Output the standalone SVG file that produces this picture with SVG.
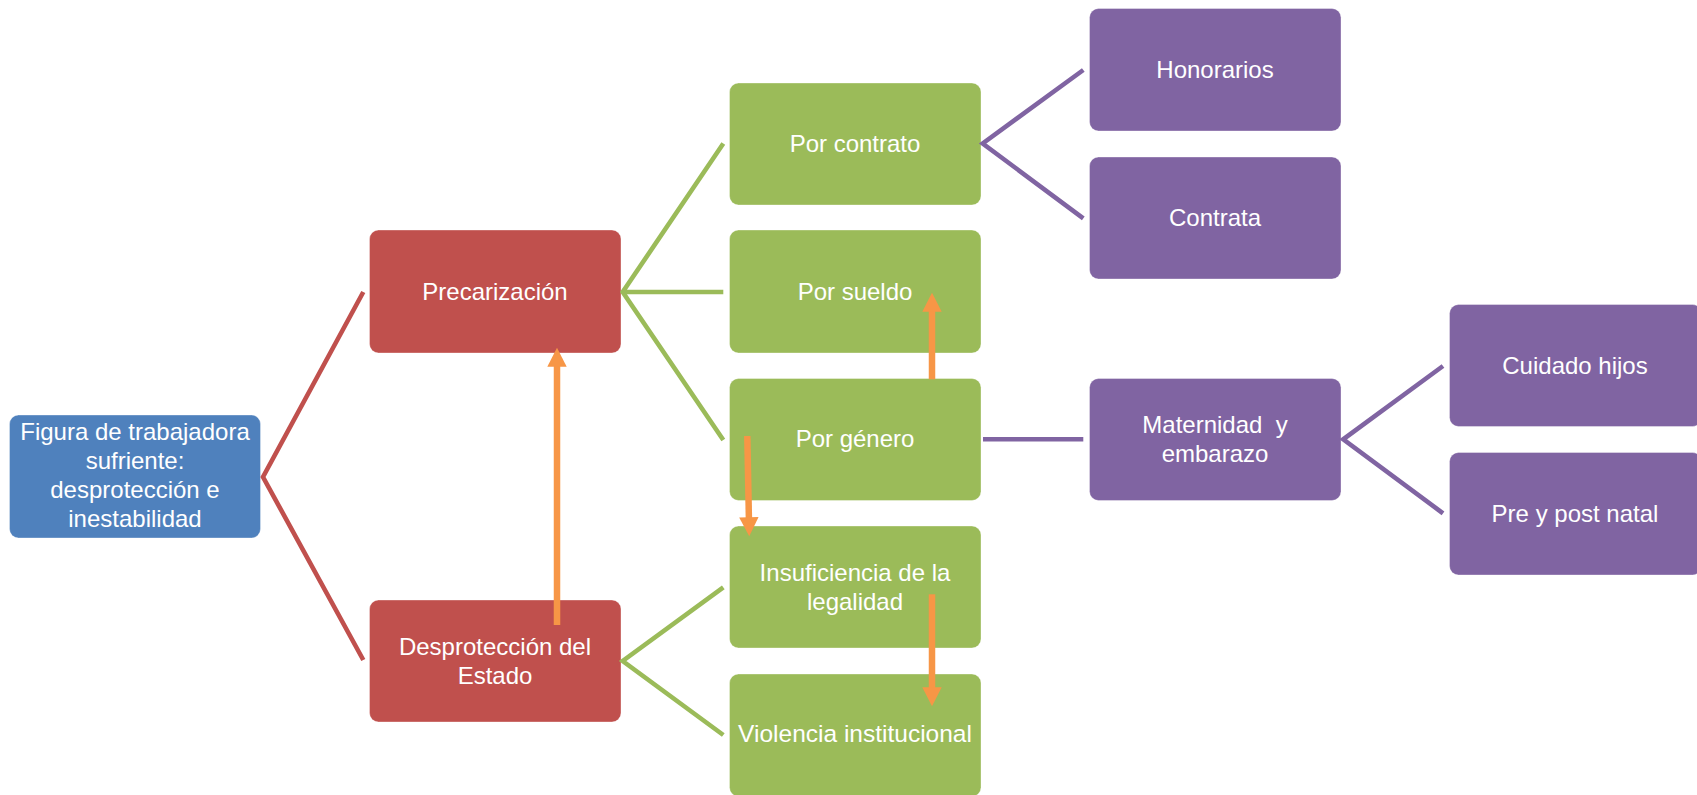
<svg xmlns="http://www.w3.org/2000/svg" width="1697" height="795" viewBox="0 0 1697 795">
<style>
.n rect{stroke:#ffffff;stroke-opacity:0.35;stroke-width:1}
.blue{fill:#4F81BD}.red{fill:#C0504D}.green{fill:#9BBB59}.purple{fill:#8064A2}
text{font-family:"Liberation Sans",Arial,sans-serif;font-size:24px;fill:#ffffff;text-anchor:middle;white-space:pre}
.c{fill:none;stroke-width:4.6;stroke-linecap:butt;stroke-linejoin:miter}
.cr{stroke:#C0504D}.cg{stroke:#9BBB59}.cp{stroke:#8064A2}
.ao{fill:none;stroke:#F79646;stroke-width:6.5}
</style>
<defs>
<marker id="ah" markerUnits="userSpaceOnUse" markerWidth="20" markerHeight="20" viewBox="0 -10 20 20" refX="1" refY="0" orient="auto" overflow="visible">
<path d="M0,-9.7 L19,0 L0,9.7 Z" fill="#F79646"/>
</marker>
</defs>
<rect width="1697" height="795" fill="#ffffff"/>
<g id="n-figura" class="n"><rect class="blue" x="9.5" y="415" width="251" height="123" rx="9"/>
<text x="135" y="440">Figura de trabajadora</text><text x="135" y="469">sufriente:</text><text x="135" y="498">desprotección e</text><text x="135" y="527">inestabilidad</text></g>
<g id="n-precarizacion" class="n"><rect class="red" x="369.5" y="230" width="251.5" height="123" rx="9"/>
<text x="495" y="300">Precarización</text></g>
<g id="n-desproteccion" class="n"><rect class="red" x="369.5" y="600" width="251.5" height="122" rx="9"/>
<text x="495" y="655">Desprotección del</text><text x="495" y="684">Estado</text></g>
<g id="n-contrato" class="n"><rect class="green" x="729.5" y="83" width="251.5" height="122" rx="9"/>
<text x="855" y="152">Por contrato</text></g>
<g id="n-sueldo" class="n"><rect class="green" x="729.5" y="230" width="251.5" height="123" rx="9"/>
<text x="855" y="300">Por sueldo</text></g>
<g id="n-genero" class="n"><rect class="green" x="729.5" y="378.5" width="251.5" height="122" rx="9"/>
<text x="855" y="447">Por género</text></g>
<g id="n-insuficiencia" class="n"><rect class="green" x="729.5" y="526" width="251.5" height="122" rx="9"/>
<text x="855" y="581">Insuficiencia de la</text><text x="855" y="610">legalidad</text></g>
<g id="n-violencia" class="n"><rect class="green" x="729.5" y="674" width="251.5" height="122.5" rx="9"/>
<text x="855" y="742" style="font-size:24.5px">Violencia institucional</text></g>
<g id="n-honorarios" class="n"><rect class="purple" x="1089.5" y="8.5" width="251.5" height="122.5" rx="9"/>
<text x="1215" y="78">Honorarios</text></g>
<g id="n-contrata" class="n"><rect class="purple" x="1089.5" y="157" width="251.5" height="122" rx="9"/>
<text x="1215" y="226">Contrata</text></g>
<g id="n-maternidad" class="n"><rect class="purple" x="1089.5" y="378.5" width="251.5" height="122" rx="9"/>
<text x="1215" y="433">Maternidad  y</text><text x="1215" y="462">embarazo</text></g>
<g id="n-cuidado" class="n"><rect class="purple" x="1449.5" y="304.5" width="252" height="122" rx="9"/>
<text x="1575" y="374">Cuidado hijos</text></g>
<g id="n-prepost" class="n"><rect class="purple" x="1449.5" y="452.5" width="252" height="122.5" rx="9"/>
<text x="1575" y="522">Pre y post natal</text></g>
<g id="connectors">
<path class="c cr" d="M363.3,292 L263,477 L363.3,660"/>
<path class="c cg" d="M723.3,143.5 L622.7,292 L723.3,440 M622.7,292 L723.3,292"/>
<path class="c cg" d="M723.3,587.3 L622.7,661 L723.3,735"/>
<path class="c cp" d="M1083.3,70 L982.7,143.5 L1083.3,218.3"/>
<path class="c cp" d="M983,439.3 L1083.3,439.3"/>
<path class="c cp" d="M1443,366 L1343.2,439.3 L1443,513.3"/>
<path class="ao" d="M557,625 L557,365.7" marker-end="url(#ah)"/>
<path class="ao" d="M932,379.3 L932,310.7" marker-end="url(#ah)"/>
<path class="ao" d="M747.3,436 L748.9,518.3" marker-end="url(#ah)"/>
<path class="ao" d="M932,594.3 L932,688.3" marker-end="url(#ah)"/>
</g>
</svg>
